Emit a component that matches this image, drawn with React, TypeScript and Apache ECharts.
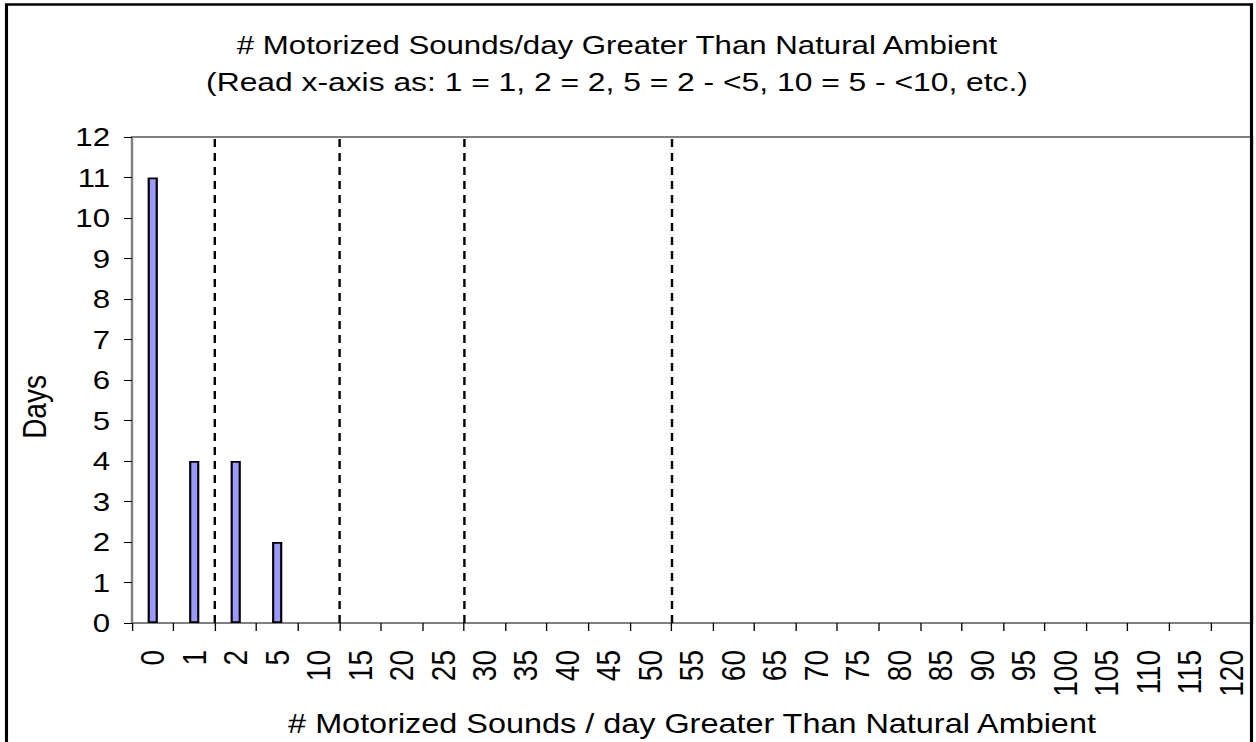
import React, { useEffect, useRef } from "react";
import * as echarts from "echarts";

const categories = ["0", "1", "2", "5", "10", "15", "20", "25", "30", "35", "40", "45", "50", "55", "60", "65", "70", "75", "80", "85", "90", "95", "100", "105", "110", "115", "120"];
const days = [11, 4, 4, 2, 0, 0, 0, 0, 0, 0, 0, 0, 0, 0, 0, 0, 0, 0, 0, 0, 0, 0, 0, 0, 0, 0, 0];
const dividerPositions = [2, 5, 8, 13];
const titleLines = [
  "# Motorized Sounds/day Greater Than Natural Ambient",
  "(Read x-axis as: 1 = 1, 2 = 2, 5 = 2 - <5, 10 = 5 - <10, etc.)",
];
const xAxisTitle = "# Motorized Sounds / day Greater Than Natural Ambient";
const yAxisTitle = "Days";

const FONT = "'Liberation Sans', Arial, sans-serif";
// The reference's text is horizontally stretched; render narrower and stretch.
const S = 1.2;
const PAGE_W = 1256;
const PAGE_H = 742;
const W = PAGE_W / S;
const sx = (v: number) => v / S;

export default function App() {
  const ref = useRef<HTMLDivElement>(null);
  useEffect(() => {
    if (!ref.current) return;
    const chart = echarts.init(ref.current, null, { renderer: "svg", width: W, height: PAGE_H });
    chart.setOption({
      animation: false,
      backgroundColor: "#ffffff",
      grid: {
        left: sx(132),
        top: 137,
        right: sx(4),
        bottom: PAGE_H - 625,
        show: true,
        borderColor: "#808080",
        borderWidth: 2,
      },
      graphic: [
        {
          type: "rect",
          shape: { x: sx(6.5), y: 4.5, width: sx(1245), height: 800 },
          style: { fill: "none", stroke: "#000", lineWidth: 2.6 },
          z: 100,
        },
        {
          type: "text",
          x: sx(617),
          y: 45,
          style: { text: titleLines[0], font: `26px ${FONT}`, fill: "#000", textAlign: "center", textVerticalAlign: "middle" },
        },
        {
          type: "text",
          x: sx(617),
          y: 82,
          style: { text: titleLines[1], font: `26.5px ${FONT}`, fill: "#000", textAlign: "center", textVerticalAlign: "middle" },
        },
        {
          type: "text",
          x: sx(35),
          y: 407,
          rotation: Math.PI / 2,
          style: { text: yAxisTitle, font: `28px ${FONT}`, fill: "#000", textAlign: "center", textVerticalAlign: "middle" },
        },
      ],
      xAxis: [
        {
          type: "category",
          data: categories,
          boundaryGap: true,
          axisLine: { lineStyle: { color: "#808080", width: 2 } },
          axisTick: { show: true, length: 8, lineStyle: { color: "#000", width: 1.1 } },
          axisLabel: { rotate: 90, margin: 27, fontSize: 28, color: "#000", fontFamily: FONT, interval: 0 },
          name: xAxisTitle,
          nameLocation: "middle",
          nameGap: 87,
          nameTextStyle: { fontSize: 27, color: "#000", fontFamily: FONT },
          splitLine: { show: false },
        },
        {
          type: "value",
          min: 0,
          max: categories.length,
          show: false,
          splitLine: { show: false },
        },
      ],
      yAxis: {
        type: "value",
        min: 0,
        max: 12,
        interval: 1,
        axisLine: { show: true, lineStyle: { color: "#808080", width: 1.7 } },
        axisTick: { show: true, length: sx(8), lineStyle: { color: "#000", width: 1 } },
        axisLabel: { margin: sx(22), fontSize: 26, color: "#000", fontFamily: FONT },
        splitLine: { show: false },
      },
      series: [
        {
          type: "bar",
          data: days.map((v) => (v === 0 ? null : v)),
          barWidth: 8.5,
          itemStyle: { color: "#9999FF", borderColor: "#000", borderWidth: 1.8 },
          xAxisIndex: 0,
        },
        {
          type: "line",
          xAxisIndex: 1,
          data: [],
          markLine: {
            silent: true,
            symbol: ["none", "none"],
            label: { show: false },
            lineStyle: { color: "#000", width: 2, type: [8, 6] },
            data: dividerPositions.map((p) => ({ xAxis: p })),
          },
        },
      ],
    });
    return () => chart.dispose();
  }, []);
  return (
    <div
      ref={ref}
      style={{
        position: "fixed",
        left: 0,
        top: 0,
        width: W,
        height: PAGE_H,
        transform: `scaleX(${S})`,
        transformOrigin: "0 0",
      }}
    />
  );
}
